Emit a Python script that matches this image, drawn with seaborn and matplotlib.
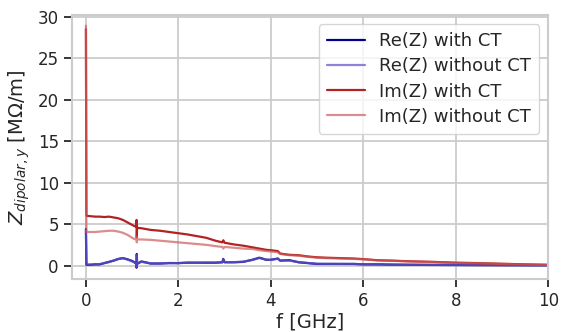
import matplotlib
matplotlib.use("Agg")
import matplotlib.pyplot as plt
import seaborn as sns
import pandas as pd

freq = [0.0, 0.01, 0.1, 0.2, 0.3, 0.4, 0.5, 0.6, 0.7, 0.8, 0.9, 1.0, 1.05, 1.09,
        1.095, 1.10, 1.105, 1.12, 1.2, 1.4, 1.6, 1.8, 2.0, 2.2, 2.4, 2.6, 2.8,
        2.95, 2.97, 3.0, 3.2, 3.4, 3.6, 3.75, 3.9, 4.0, 4.15, 4.2, 4.4, 4.6, 4.8,
        5.0, 5.2, 5.5, 5.8, 6.0, 6.3, 6.6, 7.0, 7.5, 8.0, 8.5, 9.0, 9.5, 10.0]

re_with_ct = [4.4, 0.1, 0.1, 0.15, 0.15, 0.3, 0.45, 0.6, 0.8, 0.9, 0.75, 0.55, 0.4, 0.2,
              -0.25, 1.4, 0.3, 0.25, 0.5, 0.25, 0.25, 0.3, 0.3, 0.35, 0.35, 0.35, 0.35,
              0.4, 0.8, 0.4, 0.4, 0.45, 0.7, 0.95, 0.7, 0.7, 0.85, 0.6, 0.65, 0.4, 0.3,
              0.2, 0.2, 0.2, 0.2, 0.15, 0.15, 0.12, 0.1, 0.08, 0.07, 0.06, 0.05, 0.04, 0.03]

re_without_ct = [4.2, 0.12, 0.12, 0.14, 0.18, 0.32, 0.42, 0.62, 0.78, 0.92, 0.72, 0.5, 0.38, 0.22,
                 -0.2, 1.3, 0.28, 0.27, 0.45, 0.27, 0.27, 0.32, 0.3, 0.36, 0.34, 0.37, 0.36,
                 0.42, 0.75, 0.42, 0.42, 0.47, 0.68, 0.92, 0.72, 0.68, 0.82, 0.62, 0.6, 0.42, 0.32,
                 0.22, 0.21, 0.2, 0.19, 0.16, 0.14, 0.12, 0.1, 0.09, 0.07, 0.06, 0.05, 0.04, 0.03]

im_with_ct = [28.5, 6.0, 5.95, 5.9, 5.9, 5.85, 5.9, 5.8, 5.7, 5.5, 5.2, 4.9, 4.75, 4.7,
              5.5, 3.4, 4.6, 4.55, 4.5, 4.3, 4.2, 4.05, 3.9, 3.75, 3.55, 3.35, 3.0,
              2.8, 3.05, 2.75, 2.55, 2.4, 2.2, 2.05, 1.9, 1.85, 1.75, 1.45, 1.3, 1.25, 1.1,
              1.0, 0.95, 0.9, 0.85, 0.78, 0.65, 0.6, 0.52, 0.45, 0.35, 0.3, 0.22, 0.15, 0.1]

im_without_ct = [28.9, 4.05, 4.05, 4.05, 4.1, 4.15, 4.2, 4.2, 4.1, 3.95, 3.7, 3.35, 3.2, 3.2,
                 3.5, 2.8, 3.2, 3.15, 3.15, 3.1, 3.0, 2.9, 2.8, 2.7, 2.6, 2.5, 2.35,
                 2.25, 2.05, 2.25, 2.15, 2.05, 2.0, 1.85, 1.75, 1.7, 1.6, 1.4, 1.25, 1.2, 1.05,
                 0.95, 0.9, 0.85, 0.8, 0.75, 0.62, 0.58, 0.5, 0.42, 0.33, 0.28, 0.2, 0.13, 0.08]

labels = ["Re(Z) with CT", "Re(Z) without CT", "Im(Z) with CT", "Im(Z) without CT"]
colors = ["#00008b", "#6a5acd", "#b22222", "#cd5c5c"]
alphas = [1.0, 0.75, 1.0, 0.7]

sns.set_theme(style="whitegrid")
plt.rcParams.update({
    "axes.edgecolor": "#cccccc",
    "axes.linewidth": 1.5,
    "grid.color": "#cccccc",
    "grid.linewidth": 1.3,
    "xtick.bottom": True,
    "ytick.left": True,
    "xtick.color": "#262626",
    "ytick.color": "#262626",
    "xtick.major.size": 5.5,
    "ytick.major.size": 5.5,
    "xtick.major.width": 1.3,
    "ytick.major.width": 1.3,
})
plt.rcParams["font.family"] = ["DejaVu Sans"]

fig = plt.figure(figsize=(5.63, 3.32), dpi=100)
ax = fig.add_axes([0.128, 0.16, 0.846, 0.795])

series = [re_with_ct, re_without_ct, im_with_ct, im_without_ct]
for vals, lab, col, a in zip(series, labels, colors, alphas):
    df = pd.DataFrame({"f": freq, "Z": vals})
    sns.lineplot(data=df, x="f", y="Z", ax=ax, color=col, alpha=a, lw=1.6,
                 label=lab, sort=False, estimator=None)

ax.set_xlim(-0.3, 10)
ax.set_ylim(-1.6, 30.2)
ax.set_xticks([0, 2, 4, 6, 8, 10])
ax.set_yticks([0, 5, 10, 15, 20, 25, 30])
ax.tick_params(labelsize=12, pad=4)
ax.set_xlabel("f [GHz]", fontsize=14, color="#262626", labelpad=2)
ax.set_ylabel(r"$Z_{dipolar,y}$ [MΩ/m]", fontsize=14, color="#262626", labelpad=4)
leg = ax.legend(loc="upper right", fontsize=13, frameon=True, handlelength=2.1,
                handletextpad=0.8, borderpad=0.45, labelspacing=0.4,
                borderaxespad=0.5)
for t in leg.get_texts():
    t.set_color("#262626")

fig.savefig("out.png", dpi=100)
